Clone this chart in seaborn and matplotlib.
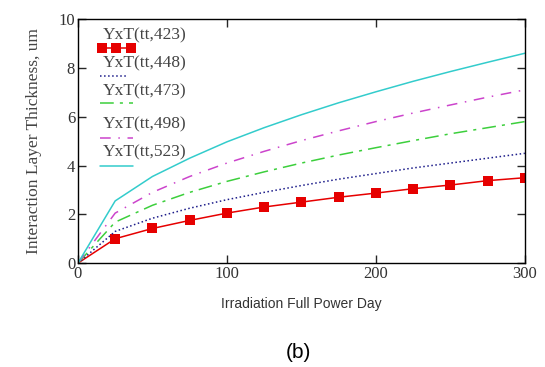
import matplotlib
matplotlib.use("Agg")
import matplotlib.pyplot as plt
import seaborn as sns
import pandas as pd
from matplotlib.lines import Line2D

sns.set_style("ticks")
plt.rcParams['font.family'] = ['Liberation Serif', 'DejaVu Serif']

# data (irradiation days vs layer thickness)
days = [0, 25, 50, 75, 100, 125, 150, 175, 200, 225, 250, 275, 300]
t423 = [0, 1.0, 1.42, 1.75, 2.05, 2.3, 2.5, 2.7, 2.87, 3.05, 3.2, 3.38, 3.5]
t448 = [0, 1.3, 1.84, 2.25, 2.6, 2.9, 3.18, 3.44, 3.67, 3.9, 4.1, 4.3, 4.5]
t473 = [0, 1.68, 2.37, 2.9, 3.35, 3.74, 4.1, 4.43, 4.73, 5.02, 5.3, 5.55, 5.8]
t498 = [0, 2.05, 2.9, 3.55, 4.1, 4.58, 5.02, 5.42, 5.8, 6.15, 6.48, 6.8, 7.1]
t523 = [0, 2.55, 3.55, 4.3, 4.97, 5.55, 6.08, 6.57, 7.02, 7.45, 7.85, 8.23, 8.6]

labels = ["YxT(tt,423)", "YxT(tt,448)", "YxT(tt,473)", "YxT(tt,498)", "YxT(tt,523)"]
series = [t423, t448, t473, t498, t523]
colors = ["#e60000", "#1c1c8a", "#3ccf3c", "#cc44cc", "#33cccc"]
styles = ["-", ":", (0, (9, 4, 2, 4)), (0, (7, 5, 1, 5)), "-"]

fig = plt.figure(figsize=(5.45, 3.67), dpi=100)
ax = fig.add_axes([0.143, 0.283, 0.82, 0.665])

for lab, vals, col, ls in zip(labels, series, colors, styles):
    df = pd.DataFrame({'day': days, 'thk': vals})
    kw = {}
    if lab.endswith("423)"):
        kw = dict(marker='s', markersize=7, markevery=slice(1, None),
                  markeredgewidth=0)
    sns.lineplot(data=df, x='day', y='thk', ax=ax, color=col, linestyle=ls,
                 linewidth=1.1, legend=False, **kw)

ax.set_xlim(0, 300)
ax.set_ylim(0, 10)
ax.set_xticks([0, 100, 200, 300])
ax.set_yticks([0, 2, 4, 6, 8, 10])
ax.tick_params(direction='in', top=True, right=True, length=6, width=1,
               labelsize=12, labelcolor='#333333', pad=2)
for s in ax.spines.values():
    s.set_linewidth(1.0)
    s.set_color('black')

ax.set_ylabel("Interaction Layer Thickness, um", fontsize=12.5, color='#444444',
              labelpad=12)
ax.set_xlabel("Irradiation Full Power Day", fontsize=10, color='#333333',
              family='Liberation Sans', labelpad=11)

# legend: label above line sample, as in the original
lx0, lx1 = 22 / 447, 55 / 447
ytxt = [35, 63, 91, 124, 152]
yline = [48, 76, 103, 138, 166]
for lab, col, ls, yt, yl in zip(labels, colors, styles, ytxt, yline):
    fy_t = (263 - yt) / 244
    fy_l = (263 - yl) / 244
    ax.text(25 / 447, fy_t, lab, transform=ax.transAxes, fontsize=12.5,
            color='#444444', va='center', ha='left')
    if lab.endswith("423)"):
        ax.add_line(Line2D([lx0 + 0.005, (lx0 + lx1) / 2, lx1 - 0.005], [fy_l] * 3,
                           transform=ax.transAxes, color=col, marker='s',
                           markersize=7, markeredgewidth=0, linewidth=1.1))
    else:
        ax.add_line(Line2D([lx0, lx1 - (0.01 if ls == ":" else 0)], [fy_l] * 2,
                           transform=ax.transAxes, color=col, linestyle=ls,
                           linewidth=1.1))

fig.text(298 / 545, 1 - 352 / 367, "(b)", ha='center', va='center', fontsize=15,
         family='Liberation Sans', color='black')

fig.savefig("out.png", dpi=100)
